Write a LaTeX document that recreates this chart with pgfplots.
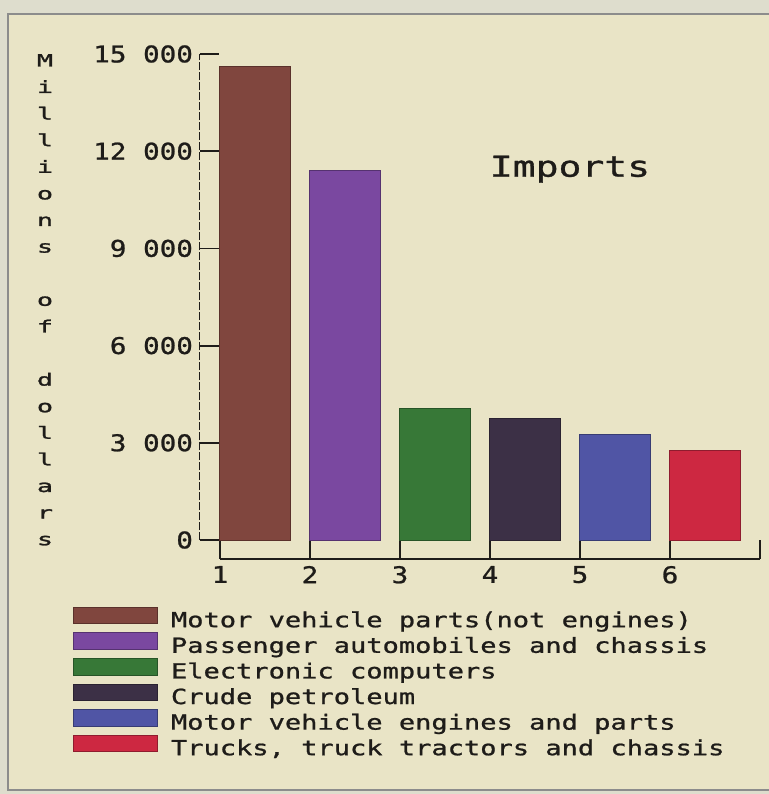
\documentclass[border=0pt]{standalone}
\usepackage{fontspec}
\usepackage{pgfplots}
\pgfplotsset{compat=1.18}
\newfontfamily\titlefam[FakeStretch=1.32,FakeBold=1]{DejaVu Sans Mono}
\newfontfamily\legfam[FakeStretch=1.3,FakeBold=1]{DejaVu Sans Mono}
\newfontfamily\tickfam[FakeStretch=1.2,FakeBold=1]{DejaVu Sans Mono}
\newfontfamily\ylabfam[FakeStretch=1.6,FakeBold=1.5]{DejaVu Sans Mono}
\newcommand\titlefont{\titlefam\fontsize{14.4}{17}\selectfont}
\newcommand\legfont{\legfam\fontsize{10.4}{12}\selectfont}
\newcommand\tickfont{\tickfam\fontsize{11.5}{13}\selectfont}
\newcommand\ylabfont{\ylabfam\fontsize{8.4}{13.3}\selectfont}
\definecolor{bgout}{RGB}{222,221,205}
\definecolor{bgin}{RGB}{233,228,198}
\definecolor{inkc}{RGB}{30,28,25}
\definecolor{cA}{RGB}{128,70,62}
\definecolor{cB}{RGB}{122,72,160}
\definecolor{cC}{RGB}{55,120,55}
\definecolor{cD}{RGB}{60,48,70}
\definecolor{cE}{RGB}{80,85,165}
\definecolor{cF}{RGB}{205,40,65}
\pgfplotsset{barleg/.style={legend image code/.code={\fill[##1] (0pt,-1.3pt) rectangle (42pt,7pt);}}}
\begin{document}
\begin{tikzpicture}[x=0.5pt,y=0.5pt]
\path[use as bounding box, fill=bgout] (0,0) rectangle (769,794);
\fill[bgin] (8,4) rectangle (769,780);
\draw[black!45, line width=0.6pt] (769,780) -- (8,780) -- (8,4) -- (769,4);
\begin{axis}[
  at={(100pt,117.5pt)}, anchor=south west,
  width=280pt, height=252.5pt, scale only axis,
  xmin=0.7778, xmax=7, ymin=-586, ymax=15000,
  axis x line=bottom, axis y line=left,
  axis line style={draw=none,-},
  scaled y ticks=false,
  xtick={1,2,3,4,5,6,7}, xticklabels={1,2,3,4,5,6,{}},
  ytick={0,3000,6000,9000,12000,15000},
  yticklabels={0,3 000,6 000,9 000,12 000,15 000},
  tick align=inside, major tick length=9.6pt,
  tick style={inkc, line width=0.9pt},
  ticklabel style={font=\tickfont, text=inkc},
  clip=false,
  legend style={at={(-0.2268,-0.0945)}, anchor=north west, draw=none, fill=none,
    inner sep=0pt, outer sep=0pt, row sep=1.05pt, column sep=6.5pt,
    font=\legfont, text=inkc,
    nodes={inner sep=0pt, text height=7.5pt, text depth=1.5pt}},
  legend cell align=left,
]
\addplot[ybar, bar width=0.78, bar shift=0pt, fill=cA, draw=cA!70!black, line width=0.5pt, barleg] coordinates {(1.39,14600)};
\addlegendentry{Motor vehicle parts(not engines)}
\addplot[ybar, bar width=0.78, bar shift=0pt, fill=cB, draw=cB!70!black, line width=0.5pt, barleg] coordinates {(2.39,11400)};
\addlegendentry{Passenger automobiles and chassis}
\addplot[ybar, bar width=0.78, bar shift=0pt, fill=cC, draw=cC!70!black, line width=0.5pt, barleg] coordinates {(3.39,4050)};
\addlegendentry{Electronic computers}
\addplot[ybar, bar width=0.78, bar shift=0pt, fill=cD, draw=cD!70!black, line width=0.5pt, barleg] coordinates {(4.39,3750)};
\addlegendentry{Crude petroleum}
\addplot[ybar, bar width=0.78, bar shift=0pt, fill=cE, draw=cE!70!black, line width=0.5pt, barleg] coordinates {(5.39,3250)};
\addlegendentry{Motor vehicle engines and parts}
\addplot[ybar, bar width=0.78, bar shift=0pt, fill=cF, draw=cF!70!black, line width=0.5pt, barleg] coordinates {(6.39,2750)};
\addlegendentry{Trucks, truck tractors and chassis}
\draw[inkc, line width=0.5pt, dash pattern=on 4pt off 1pt] (axis cs:0.7778,0) -- (axis cs:0.7778,15000);
\draw[inkc, line width=0.9pt] (axis cs:1,-586) -- (axis cs:7,-586);
\end{axis}
\node[font=\titlefont, text=inkc, anchor=base, inner sep=0pt] at (570,617.3) {Imports};
\node[anchor=base, inner sep=0pt, text=inkc] at (45,727.6) {\ylabfont\begin{tabular}[t]{@{}c@{}}M\\i\\l\\l\\i\\o\\n\\s\\~\\o\\f\\~\\d\\o\\l\\l\\a\\r\\s\end{tabular}};
\end{tikzpicture}
\end{document}
